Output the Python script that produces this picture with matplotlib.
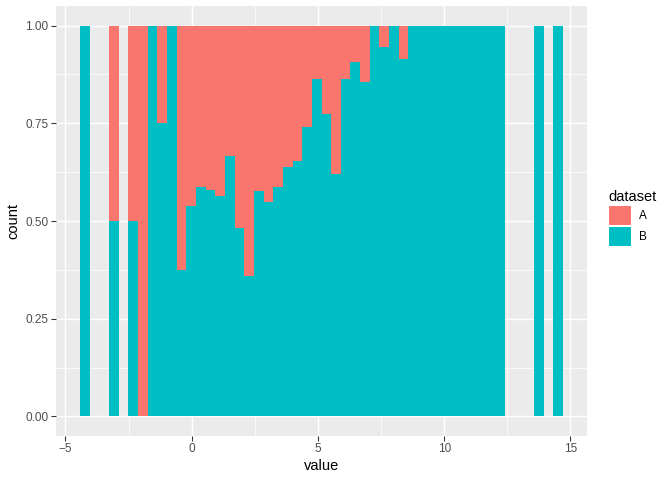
import matplotlib.pyplot as plt
import numpy as np

# histogram bins (50 bins, position = "fill")
bin_start = -4.416
bin_width = 0.3823
# share of dataset B in each bin (None = empty bin)
prop_b = [1.0, None, None, 0.5, None, 0.5, 0.0, 1.0, 0.75, 1.0,
          0.375, 0.538, 0.586, 0.579, 0.565, 0.666, 0.482, 0.36, 0.576, 0.548,
          0.586, 0.637, 0.653, 0.741, 0.864, 0.774, 0.621, 0.864, 0.908, 0.856,
          1.0, 0.945, 1.0, 0.915, 1.0, 1.0, 1.0, 1.0, 1.0, 1.0,
          1.0, 1.0, 1.0, 1.0, None, None, None, 1.0, None, 1.0]
groups = ['A', 'B']
colors = {'A': '#F8766D', 'B': '#00BFC4'}

plt.rcParams['font.family'] = ['Liberation Sans', 'DejaVu Sans']

fig = plt.figure(figsize=(7, 5), dpi=96)
ax = fig.add_axes([56 / 672, 44 / 480, 531 / 672, 430 / 480])
ax.set_facecolor('#EBEBEB')

lefts = bin_start + bin_width * np.arange(len(prop_b))
mask = np.array([p is not None for p in prop_b])
pb = np.array([p if p is not None else 0 for p in prop_b], dtype=float)
x = lefts[mask]
b = pb[mask]
a = 1 - b
ax.bar(x, b, width=bin_width, align='edge', color=colors['B'], linewidth=0, label='B')
ax.bar(x, a, width=bin_width, bottom=b, align='edge', color=colors['A'], linewidth=0, label='A')

xmin = bin_start
xmax = bin_start + bin_width * len(prop_b)
pad = (xmax - xmin) * 0.05
ax.set_xlim(xmin - pad, xmax + pad)
ax.set_ylim(-0.05, 1.05)

ax.set_xticks([-5, 0, 5, 10, 15])
ax.set_xticks([-2.5, 2.5, 7.5, 12.5], minor=True)
ax.set_yticks([0, 0.25, 0.5, 0.75, 1.0])
ax.set_yticklabels(['0.00', '0.25', '0.50', '0.75', '1.00'])
ax.set_yticks([0.125, 0.375, 0.625, 0.875], minor=True)
ax.grid(which='major', color='white', linewidth=1.1)
ax.grid(which='minor', color='white', linewidth=0.55)
ax.set_axisbelow(True)
for s in ax.spines.values():
    s.set_visible(False)
ax.tick_params(which='major', colors='#333333', length=3.5, width=0.8,
               labelsize=8.8, labelcolor='#4D4D4D', pad=2)
ax.tick_params(which='minor', length=0)

ax.set_xlabel('value', fontsize=11, labelpad=3)
ax.set_ylabel('count', fontsize=11, labelpad=4)

handles, labels = ax.get_legend_handles_labels()
order = [labels.index(g) for g in groups]
leg = fig.legend([handles[i] for i in order], groups, title='dataset',
                 loc='center left', bbox_to_anchor=(606 / 672, 0.545),
                 frameon=False, fontsize=8.8, title_fontsize=11,
                 handlelength=1.9, handleheight=2.3, handletextpad=0.7,
                 labelspacing=0.05, borderaxespad=0, borderpad=0.2)
leg._legend_box.align = 'left'
for h in leg.legend_handles:
    h.set_edgecolor('white')
    h.set_linewidth(0.8)

fig.savefig('out.png', dpi=96)
